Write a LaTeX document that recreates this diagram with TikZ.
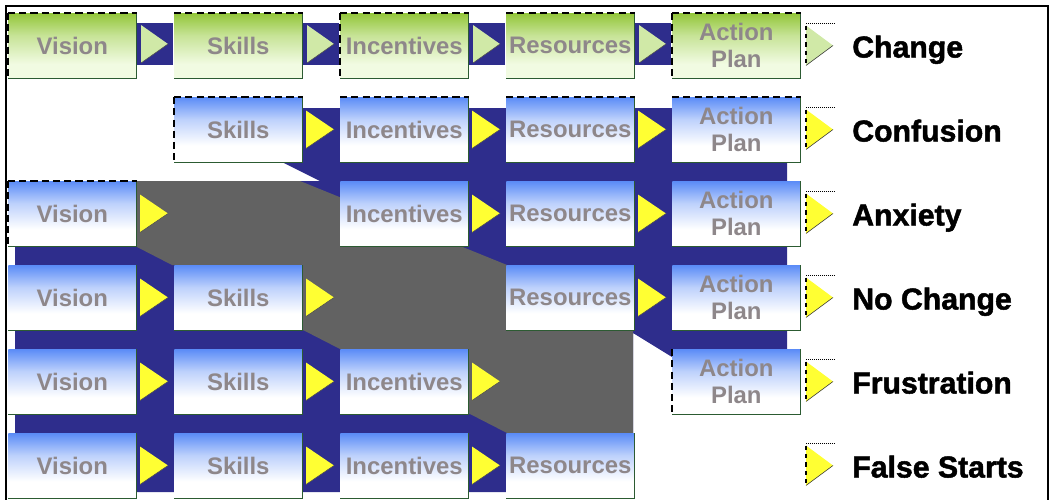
\documentclass[tikz,border=0pt]{standalone}
\usepackage{fontspec}
\setmainfont{Liberation Sans}
\newfontfamily\outcomefont[FakeBold=1.6]{Liberation Sans Bold}
\usepackage{tikz}
\usetikzlibrary{calc}
\definecolor{navy}{HTML}{2E2D8C}
\definecolor{slate}{HTML}{626262}
\definecolor{skyb}{HTML}{5B8CF7}
\definecolor{lime}{HTML}{93C63A}
\definecolor{limepale}{HTML}{F1FBE2}
\definecolor{greytxt}{HTML}{8E878A}
\definecolor{yel}{HTML}{FFFF33}
\definecolor{rim}{HTML}{2C5B32}
\pgfdeclareverticalshading{bluefade}{100bp}{color(0bp)=(white); color(38bp)=(white); color(58bp)=(skyb!40); color(75bp)=(skyb); color(100bp)=(skyb)}
\pgfdeclareverticalshading{greenfade}{100bp}{color(0bp)=(limepale); color(36bp)=(limepale); color(58bp)=(lime!45!limepale); color(75bp)=(lime); color(100bp)=(lime)}
\newcommand{\stagename}[1]{\ifcase#1\or Vision\or Skills\or Incentives\or Resources\or Action\\Plan\fi}

\begin{document}
\begin{tikzpicture}[x=0.025cm,y=-0.025cm,
  stage/.style={anchor=north west,minimum width=3.2cm,minimum height=1.625cm,inner sep=0pt,
    shading=bluefade,text=greytxt,align=center,font=\fontsize{17}{19}\selectfont\bfseries},
  greenstage/.style={stage,shading=greenfade},
  pointer/.style={fill=yel},
  outcome/.style={anchor=base west,inner sep=0pt,font=\fontsize{21.5}{24}\selectfont\outcomefont},
  openrim/.style={line width=1pt,dash pattern=on 5pt off 3pt}]
\useasboundingbox (0,0) rectangle (1054,500);
% ---------- backdrop: navy band and grey gap ----------
\fill[navy] (303,108) -- (787,108) -- (787,349) -- (672,349) -- (672,357) -- (633,333)
  -- (633,492) -- (15,492) -- (15,247) -- (137,247) -- (137,181) -- (320,181) -- (282,162) -- (303,140) -- cycle;
\fill[slate] (137,181) -- (300,181) -- (507,265) -- (507,330) -- (633,330) -- (633,433) -- (507,433)
  -- (468,413) -- (468,349) -- (340,349) -- (303,330) -- (303,265) -- (172,265) -- (137,247) -- cycle;
% ---------- top row: every stage present ----------
\foreach \c in {1,...,5} {
  \pgfmathsetmacro{\px}{8+166*(\c-1)}
  \node[greenstage] (g\c) at (\px,13) {\stagename{\c}};
  \draw[rim,line width=0.8pt] (g\c.south west) -- (g\c.south east) -- (g\c.north east);
  \ifnum\c<5
    \fill[navy] (\px+129,23) rectangle (\px+165,65);
    \fill[lime!35!limepale] (\px+133,25) -- (\px+160,44) -- (\px+133,63) -- cycle;
    \draw[black!70] (\px+160,44) -- (\px+133,63);
  \fi
}
% ---------- lower rows: one stage missing ----------
\foreach \r/\cols/\tips in {2/{2,3,4,5}/{2,3,4},3/{1,3,4,5}/{1,3,4},4/{1,2,4,5}/{1,2,4},
    5/{1,2,3,5}/{1,2,3},6/{1,2,3,4}/{1,2,3}} {
  \pgfmathsetmacro{\py}{13+84*(\r-1)}
  \pgfmathsetmacro{\yc}{\py+32.5}
  \foreach \c in \cols {
    \pgfmathsetmacro{\px}{8+166*(\c-1)}
    \node[stage] (b\r\c) at (\px,\py) {\stagename{\c}};
    \draw[rim,line width=0.8pt] (b\r\c.south west) -- (b\r\c.south east) -- (b\r\c.north east);
  }
  \foreach \c in \tips {
    \pgfmathsetmacro{\px}{8+166*(\c-1)}
    \fill[pointer] (\px+132,\yc-19) -- (\px+160,\yc) -- (\px+132,\yc+19) -- cycle;
    \draw[black!70] (\px+160,\yc) -- (\px+132,\yc+19);
  }
}
% dashed rims where a stage meets the white page
\foreach \n in {g1,g2,g3,g4,g5,b22,b23,b24,b25,b31}
  \draw[openrim] (\n.north west) -- (\n.north east);
\foreach \n in {g1,g3,g5,b22,b31,b55}
  \draw[openrim] (\n.north west) -- (\n.south west);
% ---------- outcomes ----------
\foreach \r/\txt/\tint in {1/Change/lime!35!limepale,2/Confusion/yel,3/Anxiety/yel,
    4/No Change/yel,5/Frustration/yel,6/False Starts/yel} {
  \pgfmathsetmacro{\yc}{45.5+84*(\r-1)}
  \fill[\tint] (806,\yc-20) -- (833,\yc) -- (806,\yc+20) -- cycle;
  \draw[black!80] (833,\yc) -- (806,\yc+20);
  \draw[dashed,line width=0.8pt] (806,\yc-20) -- (806,\yc+20);
  \draw[densely dotted] (806,\yc-22) -- (834,\yc-22);
  \node[outcome] (out\r) at (852,\yc+12) {\txt};
}
% frame
\draw[line width=2pt] (6,500) -- (6,6) -- (1048,6) -- (1048,500);
\end{tikzpicture}
\end{document}
